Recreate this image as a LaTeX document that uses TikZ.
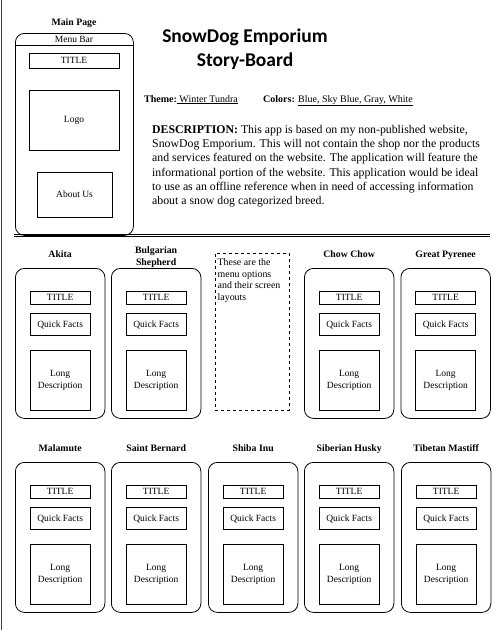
\documentclass[tikz,border=0pt]{standalone}
\usepackage{fontspec}
\setmainfont{Liberation Serif}
\newfontfamily\titlefont{Carlito}
\usetikzlibrary{calc}
\tikzset{
  phone/.style={draw, line width=0.8pt, rounded corners=9pt, minimum width=89.5pt, minimum height=150pt, inner sep=0pt},
  ibox/.style={draw, line width=0.8pt, inner sep=0pt, minimum width=60pt, font=\fontsize{9.5}{11.5}\selectfont, align=center},
  lbl/.style={font=\bfseries\fontsize{9.8}{12}\selectfont, align=center, inner sep=0pt},
  txt/.style={inner sep=0pt, align=left}
}
\newcommand{\dogscreen}[5][anchor=base]{%
  \node[phone, anchor=north west] (#2) at (#3,#4) {};
  \node[lbl, #1] (#2-lbl) at ($(#2.north)+(0,-10.5)$) {#5};
  \node[ibox, minimum height=13pt] (#2-t) at ($(#2.north)+(0,29.5)$) {TITLE};
  \node[ibox, minimum height=22.5pt] (#2-q) at ($(#2.north)+(0,56.5)$) {Quick Facts};
  \node[ibox, minimum height=60pt] (#2-d) at ($(#2.north)+(0,112)$) {\raisebox{-2.5pt}{\begin{tabular}{@{}c@{}}Long\\[0.3pt]Description\end{tabular}}};
}
\begin{document}
\begin{tikzpicture}[x=1pt,y=-1pt]
\useasboundingbox (0,0) rectangle (497,630);
\fill[white] (0,0) rectangle (497,630);
% page border on the left
\coordinate (bt) at (1,0);
\coordinate (bb) at (1,630);
\draw[line width=0.8pt, black!75] (bt) -- (bb);

% Main page
\node[lbl, anchor=base] (mainlbl) at (74,25.5) {Main Page};
\node[draw, line width=0.8pt, rounded corners=9pt, minimum width=118pt, minimum height=202pt, anchor=north west, inner sep=0pt] (main) at (15,33) {};
\coordinate (mbl) at (15,45.5);
\coordinate (mbr) at (133,45.5);
\draw[line width=0.8pt] (mbl) -- (mbr);
\node[inner sep=0pt, font=\fontsize{9.5}{11.5}\selectfont] (menubar) at (74,39) {Menu Bar};
\node[ibox, minimum width=90pt, minimum height=15pt] (mtitle) at (74,60.5) {TITLE};
\node[ibox, minimum width=90pt, minimum height=60pt] (mlogo) at (74,120) {Logo};
\node[ibox, minimum width=75pt, minimum height=45pt] (mabout) at (74.5,194.5) {About Us};

% Title
\node[inner sep=0pt, font=\titlefont\bfseries\fontsize{19.5}{24}\selectfont] (title1) at (245,37) {SnowDog Emporium};
\node[inner sep=0pt, font=\titlefont\bfseries\fontsize{19.5}{24}\selectfont] (title2) at (245,61) {Story-Board};

% Theme and colors
\node[txt, anchor=base west, font=\fontsize{10}{12}\selectfont] (theme) at (144,102) {\textbf{Theme:}\underline{ Winter Tundra}};
\node[txt, anchor=base west, font=\fontsize{10}{12}\selectfont] (colors) at (263,102) {\textbf{Colors:} \underline{Blue, Sky Blue, Gray, White}};

% Description
\node[txt, anchor=north west, font=\fontsize{11.8}{14.3}\selectfont] (desc) at (152,125) {%
\textbf{DESCRIPTION:} This app is based on my non-published website,\\
SnowDog Emporium. This will not contain the shop nor the products\\
and services featured on the website. The application will feature the\\
informational portion of the website. This application would be ideal\\
to use as an offline reference when in need of accessing information\\
about a snow dog categorized breed.};

% separator
\coordinate (sl1) at (14,234);
\coordinate (sr1) at (490,234);
\coordinate (sl2) at (14,236.5);
\coordinate (sr2) at (490,236.5);
\draw[line width=1pt] (sl1) -- (sr1);
\draw[line width=0.6pt] (sl2) -- (sr2);

% Row 1
\dogscreen{akita}{15}{268}{Akita}
\dogscreen[anchor=center, yshift=0.5pt]{bulg}{111}{268}{Bulgarian\\Shepherd}
\dogscreen{chow}{304}{268}{Chow Chow}
\dogscreen{pyr}{400.5}{268}{Great Pyrenee}
\node[draw, dashed, line width=0.8pt, minimum width=74pt, minimum height=157pt, anchor=north west, inner sep=0pt] (note) at (215,253) {};
\node[txt, anchor=north west, font=\fontsize{9.9}{11.7}\selectfont] (notetxt) at (217.5,258.5) {These are the\\menu options\\and their screen\\layouts};

% Row 2
\dogscreen{mala}{15}{462}{Malamute}
\dogscreen{stb}{111}{462}{Saint Bernard}
\dogscreen{shiba}{208}{462}{Shiba Inu}
\dogscreen{husky}{304}{462}{Siberian Husky}
\dogscreen{tib}{401}{462}{Tibetan Mastiff}
\end{tikzpicture}
\end{document}
